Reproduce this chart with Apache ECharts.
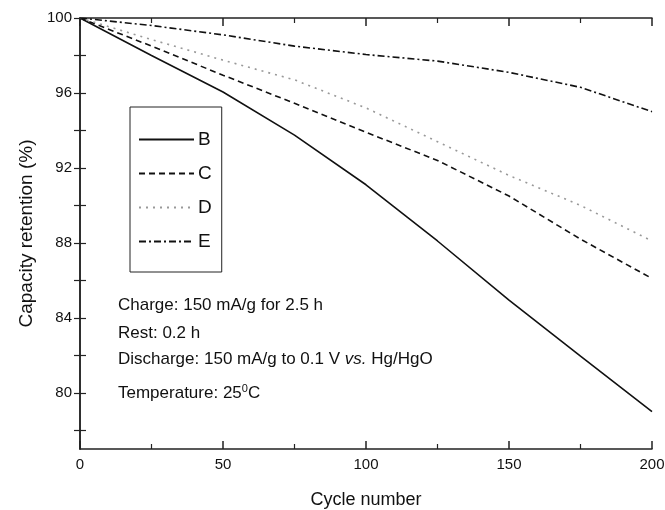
<!DOCTYPE html>
<html>
<head>
<meta charset="utf-8">
<script src="https://cdn.jsdelivr.net/npm/echarts@6/dist/echarts.min.js"></script>
<style>
  html, body { margin: 0; padding: 0; background: #fff; }
  #main { width: 665px; height: 510px; }
</style>
</head>
<body>
<div id="main"></div>
<script>
// cycle numbers
var cycles = [0, 25, 50, 75, 100, 125, 150, 175, 200]
// capacity retention (%)
var seriesB = [100, 98.0, 96.05, 93.75, 91.1, 88.1, 84.95, 81.95, 79.0]
var seriesC = [100, 98.5, 96.95, 95.45, 93.9, 92.4, 90.5, 88.2, 86.1]
var seriesD = [100, 98.85, 97.75, 96.7, 95.2, 93.4, 91.6, 90.0, 88.1]
var seriesE = [100, 99.6, 99.1, 98.5, 98.05, 97.7, 97.1, 96.3, 95.0]
var seriesNames = ['B', 'C', 'D', 'E']
var yLabels = [80, 84, 88, 92, 96, 100]
var yTicks = [78, 80, 82, 84, 86, 88, 90, 92, 94, 96, 98, 100]

var font = 'Liberation Sans, Arial, sans-serif'

function pairs(vals) {
  return cycles.map(function (c, i) { return [c, vals[i]] })
}

var chart = echarts.init(document.getElementById('main'))

var xBase = {
  type: 'value',
  min: 0,
  max: 200,
  interval: 50,
  axisLine: { show: true, lineStyle: { color: '#222', width: 1.5 } },
  axisTick: { show: true, inside: true, length: 8, lineStyle: { color: '#222', width: 1.5 } },
  minorTick: { show: true, splitNumber: 2, length: 5, lineStyle: { color: '#222', width: 1.2 } },
  splitLine: { show: false }
}
var yBase = {
  type: 'value',
  min: 77,
  max: 100,
  axisLine: { show: true, lineStyle: { color: '#222', width: 1.5 } },
  axisTick: { show: true, inside: true, length: 6, customValues: yTicks, lineStyle: { color: '#222', width: 1.2 } },
  splitLine: { show: false }
}

// 注释文字
function note(text, top, rich) {
  return {
    type: 'text',
    left: 118,
    top: top,
    style: {
      text: text,
      font: '17px ' + font,
      fill: '#111',
      rich: rich
    }
  }
}

var option = {
  backgroundColor: '#fff',
  animation: false,
  grid: { left: 80, right: 13, top: 18, bottom: 61, containLabel: false, outerBoundsMode: 'none' },
  legend: {
    data: seriesNames,
    orient: 'vertical',
    left: 130,
    top: 107,
    padding: [23, 10, 21, 8],
    itemWidth: 55,
    itemHeight: 14,
    itemGap: 15,
    borderColor: '#222',
    borderWidth: 1,
    itemStyle: { opacity: 0 },
    textStyle: { fontFamily: font, fontSize: 19, color: '#111', padding: [0, 0, 0, -1] }
  },
  xAxis: [
    Object.assign({}, xBase, {
      position: 'bottom',
      name: 'Cycle number',
      nameLocation: 'middle',
      nameGap: 42,
      nameTextStyle: { fontFamily: font, fontSize: 18, color: '#111' },
      axisLabel: { show: true, margin: 8, fontFamily: font, fontSize: 15, color: '#111' }
    }),
    Object.assign({}, xBase, { position: 'top', axisLabel: { show: false } })
  ],
  yAxis: [
    Object.assign({}, yBase, {
      position: 'left',
      name: 'Capacity retention (%)',
      nameLocation: 'middle',
      nameGap: 44,
      nameTextStyle: { fontFamily: font, fontSize: 19, color: '#111' },
      axisLabel: { show: true, margin: 8, customValues: yLabels, fontFamily: font, fontSize: 15, color: '#111' }
    }),
    Object.assign({}, yBase, { position: 'right', axisLabel: { show: false } })
  ],
  graphic: [
    note('Charge: 150 mA/g for 2.5 h', 297),
    note('Rest: 0.2 h', 325),
    note('Discharge: 150 mA/g to 0.1 V {i|vs.} Hg/HgO', 351, {
      i: { fontStyle: 'italic', fontSize: 17, fontFamily: font }
    }),
    note('Temperature: 25{s|0}C', 383, {
      s: { fontSize: 11, fontFamily: font, padding: [0, 0, 9, 0] }
    })
  ],
  series: [
    {
      name: 'B', type: 'line', symbol: 'none',
      lineStyle: { color: '#111', width: 1.6, type: 'solid' },
      itemStyle: { color: '#111' },
      data: pairs(seriesB)
    },
    {
      name: 'C', type: 'line', symbol: 'none',
      lineStyle: { color: '#111', width: 1.6, type: [6, 4] },
      itemStyle: { color: '#111' },
      data: pairs(seriesC)
    },
    {
      name: 'D', type: 'line', symbol: 'none',
      lineStyle: { color: '#999', width: 1.6, type: [2, 5] },
      itemStyle: { color: '#999' },
      data: pairs(seriesD)
    },
    {
      name: 'E', type: 'line', symbol: 'none',
      lineStyle: { color: '#111', width: 1.6, type: [7, 3, 2, 3] },
      itemStyle: { color: '#111' },
      data: pairs(seriesE)
    }
  ]
}

chart.setOption(option)
</script>
</body>
</html>
